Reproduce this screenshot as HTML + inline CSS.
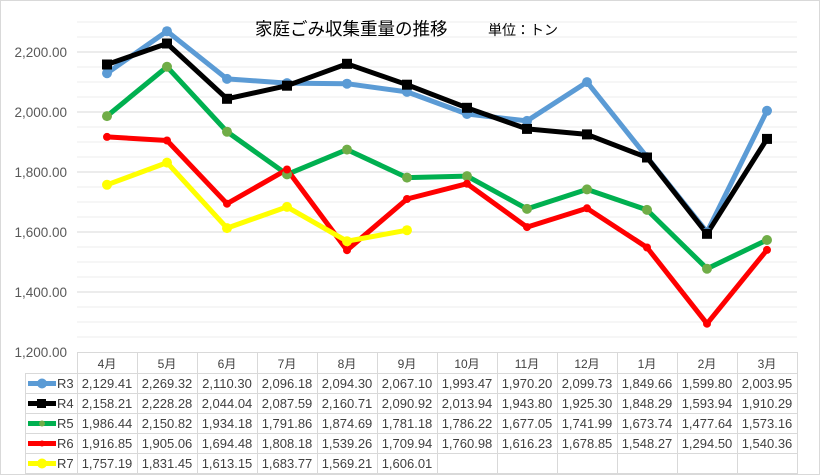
<!DOCTYPE html>
<html><head><meta charset="utf-8"><style>
body{margin:0;background:#fff}
svg{display:block;font-family:"Liberation Sans","Noto Sans CJK JP",sans-serif}
</style></head><body>
<svg width="820" height="475" viewBox="0 0 820 475" xmlns="http://www.w3.org/2000/svg">
<rect x="0.5" y="0.5" width="819" height="474" fill="#fff" stroke="#d9d9d9"/>
<g stroke="#ececec" stroke-width="1">
<line x1="77" x2="797" y1="22" y2="22"/><line x1="77" x2="797" y1="37" y2="37"/>
<line x1="77" x2="797" y1="67" y2="67"/><line x1="77" x2="797" y1="82" y2="82"/><line x1="77" x2="797" y1="97" y2="97"/>
<line x1="77" x2="797" y1="127" y2="127"/><line x1="77" x2="797" y1="142" y2="142"/><line x1="77" x2="797" y1="157" y2="157"/>
<line x1="77" x2="797" y1="187" y2="187"/><line x1="77" x2="797" y1="202" y2="202"/><line x1="77" x2="797" y1="217" y2="217"/>
<line x1="77" x2="797" y1="247" y2="247"/><line x1="77" x2="797" y1="262" y2="262"/><line x1="77" x2="797" y1="277" y2="277"/>
<line x1="77" x2="797" y1="307" y2="307"/><line x1="77" x2="797" y1="322" y2="322"/><line x1="77" x2="797" y1="337" y2="337"/>
</g>
<g stroke="#d9d9d9" stroke-width="1">
<line x1="77" x2="797" y1="52" y2="52"/><line x1="77" x2="797" y1="112" y2="112"/><line x1="77" x2="797" y1="172" y2="172"/>
<line x1="77" x2="797" y1="232" y2="232"/><line x1="77" x2="797" y1="292" y2="292"/>
</g>
<g font-size="13.5" fill="#595959" text-anchor="end">
<text x="67" y="57">2,200.00</text><text x="67" y="117">2,000.00</text><text x="67" y="177">1,800.00</text>
<text x="67" y="237">1,600.00</text><text x="67" y="297">1,400.00</text><text x="67" y="357">1,200.00</text>
</g>
<text x="255" y="35" font-size="17.5" fill="#000">家庭ごみ収集重量の推移</text>
<text x="488" y="35" font-size="14" fill="#000">単位：トン</text>
<g fill="none" stroke-width="5" stroke-linejoin="round">
<polyline stroke="#5b9bd5" points="107,73.2 167,31.2 227,78.9 287,83.1 347,83.7 407,91.9 467,114 527,120.9 587,82.1 647,157.1 707,232.1 767,110.8"/>
<polyline stroke="#000" points="107,64.5 167,43.5 227,98.8 287,85.7 347,63.8 407,84.7 467,107.8 527,128.9 587,134.4 647,157.5 707,233.8 767,138.9"/>
<polyline stroke="#00b050" points="107,116.1 167,66.8 227,131.7 287,174.4 347,149.6 407,177.6 467,176.1 527,208.9 587,189.4 647,209.9 707,268.7 767,240"/>
<polyline stroke="#f00" points="107,136.9 167,140.5 227,203.7 287,169.5 347,250.2 407,199 467,183.7 527,227.1 587,208.3 647,247.5 707,323.7 767,249.9"/>
<polyline stroke="#ff0" points="107,184.8 167,162.6 227,228.1 287,206.9 347,241.2 407,230.2"/>
</g>
<g fill="#5b9bd5"><circle cx="107" cy="73.2" r="5"/><circle cx="167" cy="31.2" r="5"/><circle cx="227" cy="78.9" r="5"/><circle cx="287" cy="83.1" r="5"/><circle cx="347" cy="83.7" r="5"/><circle cx="407" cy="91.9" r="5"/><circle cx="467" cy="114" r="5"/><circle cx="527" cy="120.9" r="5"/><circle cx="587" cy="82.1" r="5"/><circle cx="647" cy="157.1" r="5"/><circle cx="707" cy="232.1" r="5"/><circle cx="767" cy="110.8" r="5"/></g>
<g fill="#000"><rect x="102" y="59.5" width="10" height="10"/><rect x="162" y="38.5" width="10" height="10"/><rect x="222" y="93.8" width="10" height="10"/><rect x="282" y="80.7" width="10" height="10"/><rect x="342" y="58.8" width="10" height="10"/><rect x="402" y="79.7" width="10" height="10"/><rect x="462" y="102.8" width="10" height="10"/><rect x="522" y="123.9" width="10" height="10"/><rect x="582" y="129.4" width="10" height="10"/><rect x="642" y="152.5" width="10" height="10"/><rect x="702" y="228.8" width="10" height="10"/><rect x="762" y="133.9" width="10" height="10"/></g>
<g fill="#70ad47"><circle cx="107" cy="116.1" r="5"/><circle cx="167" cy="66.8" r="5"/><circle cx="227" cy="131.7" r="5"/><circle cx="287" cy="174.4" r="5"/><circle cx="347" cy="149.6" r="5"/><circle cx="407" cy="177.6" r="5"/><circle cx="467" cy="176.1" r="5"/><circle cx="527" cy="208.9" r="5"/><circle cx="587" cy="189.4" r="5"/><circle cx="647" cy="209.9" r="5"/><circle cx="707" cy="268.7" r="5"/><circle cx="767" cy="240" r="5"/></g>
<g fill="#f00"><circle cx="107" cy="136.9" r="4"/><circle cx="167" cy="140.5" r="4"/><circle cx="227" cy="203.7" r="4"/><circle cx="287" cy="169.5" r="4"/><circle cx="347" cy="250.2" r="4"/><circle cx="407" cy="199" r="4"/><circle cx="467" cy="183.7" r="4"/><circle cx="527" cy="227.1" r="4"/><circle cx="587" cy="208.3" r="4"/><circle cx="647" cy="247.5" r="4"/><circle cx="707" cy="323.7" r="4"/><circle cx="767" cy="249.9" r="4"/></g>
<g fill="#ff0"><circle cx="107" cy="184.8" r="5"/><circle cx="167" cy="162.6" r="5"/><circle cx="227" cy="228.1" r="5"/><circle cx="287" cy="206.9" r="5"/><circle cx="347" cy="241.2" r="5"/><circle cx="407" cy="230.2" r="5"/></g>
<!-- table -->
<g stroke="#d9d9d9" stroke-width="1" fill="none">
<line x1="77" x2="797" y1="352.5" y2="352.5"/>
<line x1="25" x2="797" y1="373.5" y2="373.5"/><line x1="25" x2="797" y1="393.5" y2="393.5"/><line x1="25" x2="797" y1="413.5" y2="413.5"/><line x1="25" x2="797" y1="433.5" y2="433.5"/><line x1="25" x2="797" y1="453.5" y2="453.5"/><line x1="25" x2="797" y1="473.5" y2="473.5"/>
<line x1="25.5" x2="25.5" y1="373" y2="474"/>
<line x1="77.5" x2="77.5" y1="352" y2="474"/><line x1="137.5" x2="137.5" y1="352" y2="474"/><line x1="197.5" x2="197.5" y1="352" y2="474"/><line x1="257.5" x2="257.5" y1="352" y2="474"/><line x1="317.5" x2="317.5" y1="352" y2="474"/><line x1="377.5" x2="377.5" y1="352" y2="474"/><line x1="437.5" x2="437.5" y1="352" y2="474"/><line x1="497.5" x2="497.5" y1="352" y2="474"/><line x1="557.5" x2="557.5" y1="352" y2="474"/><line x1="617.5" x2="617.5" y1="352" y2="474"/><line x1="677.5" x2="677.5" y1="352" y2="474"/><line x1="737.5" x2="737.5" y1="352" y2="474"/><line x1="797.5" x2="797.5" y1="352" y2="474"/>
</g>
<g font-size="12" fill="#404040" text-anchor="middle">
<text x="107" y="368">4月</text><text x="167" y="368">5月</text><text x="227" y="368">6月</text><text x="287" y="368">7月</text><text x="347" y="368">8月</text><text x="407" y="368">9月</text><text x="467" y="368">10月</text><text x="527" y="368">11月</text><text x="587" y="368">12月</text><text x="647" y="368">1月</text><text x="707" y="368">2月</text><text x="767" y="368">3月</text>
</g>
<g stroke-width="5">
<line x1="28" x2="56" y1="383.5" y2="383.5" stroke="#5b9bd5"/><circle cx="42" cy="383.5" r="5" fill="#5b9bd5"/>
<line x1="28" x2="56" y1="403.5" y2="403.5" stroke="#000"/><rect x="37" y="399" width="9" height="9" fill="#000"/>
<line x1="28" x2="56" y1="423.5" y2="423.5" stroke="#00b050"/><circle cx="42" cy="423.5" r="3" fill="#70ad47"/>
<line x1="28" x2="56" y1="443.5" y2="443.5" stroke="#f00"/><circle cx="42" cy="443.5" r="3" fill="#f00"/>
<line x1="28" x2="56" y1="463.5" y2="463.5" stroke="#ff0"/><circle cx="42" cy="463.5" r="5" fill="#ff0"/>
</g>
<g font-size="13" fill="#404040">
<text x="57" y="388">R3</text><text x="57" y="408">R4</text><text x="57" y="428">R5</text><text x="57" y="448">R6</text><text x="57" y="468">R7</text>
</g>
<g font-size="13" fill="#404040" text-anchor="middle">
<text y="388"><tspan x="107">2,129.41</tspan><tspan x="167">2,269.32</tspan><tspan x="227">2,110.30</tspan><tspan x="287">2,096.18</tspan><tspan x="347">2,094.30</tspan><tspan x="407">2,067.10</tspan><tspan x="467">1,993.47</tspan><tspan x="527">1,970.20</tspan><tspan x="587">2,099.73</tspan><tspan x="647">1,849.66</tspan><tspan x="707">1,599.80</tspan><tspan x="767">2,003.95</tspan></text>
<text y="408"><tspan x="107">2,158.21</tspan><tspan x="167">2,228.28</tspan><tspan x="227">2,044.04</tspan><tspan x="287">2,087.59</tspan><tspan x="347">2,160.71</tspan><tspan x="407">2,090.92</tspan><tspan x="467">2,013.94</tspan><tspan x="527">1,943.80</tspan><tspan x="587">1,925.30</tspan><tspan x="647">1,848.29</tspan><tspan x="707">1,593.94</tspan><tspan x="767">1,910.29</tspan></text>
<text y="428"><tspan x="107">1,986.44</tspan><tspan x="167">2,150.82</tspan><tspan x="227">1,934.18</tspan><tspan x="287">1,791.86</tspan><tspan x="347">1,874.69</tspan><tspan x="407">1,781.18</tspan><tspan x="467">1,786.22</tspan><tspan x="527">1,677.05</tspan><tspan x="587">1,741.99</tspan><tspan x="647">1,673.74</tspan><tspan x="707">1,477.64</tspan><tspan x="767">1,573.16</tspan></text>
<text y="448"><tspan x="107">1,916.85</tspan><tspan x="167">1,905.06</tspan><tspan x="227">1,694.48</tspan><tspan x="287">1,808.18</tspan><tspan x="347">1,539.26</tspan><tspan x="407">1,709.94</tspan><tspan x="467">1,760.98</tspan><tspan x="527">1,616.23</tspan><tspan x="587">1,678.85</tspan><tspan x="647">1,548.27</tspan><tspan x="707">1,294.50</tspan><tspan x="767">1,540.36</tspan></text>
<text y="468"><tspan x="107">1,757.19</tspan><tspan x="167">1,831.45</tspan><tspan x="227">1,613.15</tspan><tspan x="287">1,683.77</tspan><tspan x="347">1,569.21</tspan><tspan x="407">1,606.01</tspan></text>
</g>
</svg>
</body></html>
